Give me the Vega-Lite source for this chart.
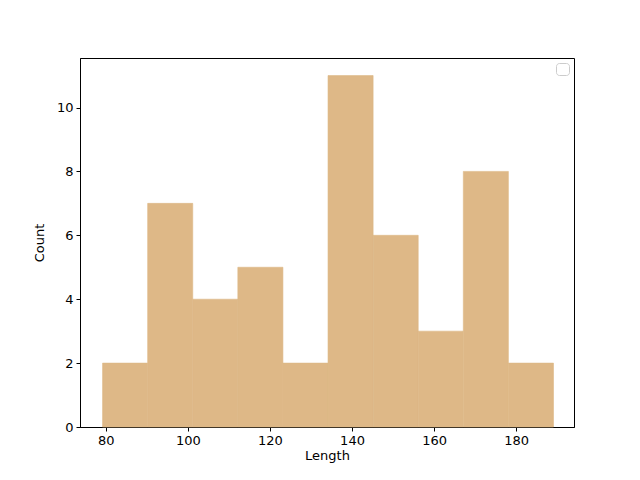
{
  "$schema": "https://vega.github.io/schema/vega-lite/v6.json",
  "width": 494,
  "height": 369,
  "padding": {"left": 80, "top": 58, "right": 66, "bottom": 53},
  "autosize": {"type": "none"},
  "background": "white",
  "config": {
    "font": "DejaVu Sans",
    "view": {"stroke": "black", "strokeWidth": 1},
    "axis": {
      "grid": false,
      "domainColor": "black",
      "tickColor": "black",
      "tickSize": 4,
      "labelFontSize": 13,
      "labelColor": "black",
      "titleFontSize": 13,
      "titleFontWeight": "normal",
      "titleColor": "black",
      "labelPadding": 3,
      "labelFont": "DejaVu Sans",
      "titleFont": "DejaVu Sans"
    }
  },
  "data": {
    "values": [
      {"bin_start": 79.2, "bin_end": 90.19, "count": 2, "series": "Length"},
      {"bin_start": 90.19, "bin_end": 101.18, "count": 7, "series": "Length"},
      {"bin_start": 101.18, "bin_end": 112.17, "count": 4, "series": "Length"},
      {"bin_start": 112.17, "bin_end": 123.16, "count": 5, "series": "Length"},
      {"bin_start": 123.16, "bin_end": 134.15, "count": 2, "series": "Length"},
      {"bin_start": 134.15, "bin_end": 145.14, "count": 11, "series": "Length"},
      {"bin_start": 145.14, "bin_end": 156.13, "count": 6, "series": "Length"},
      {"bin_start": 156.13, "bin_end": 167.12, "count": 3, "series": "Length"},
      {"bin_start": 167.12, "bin_end": 178.11, "count": 8, "series": "Length"},
      {"bin_start": 178.11, "bin_end": 189.1, "count": 2, "series": "Length"}
    ]
  },
  "mark": {"type": "rect", "stroke": "#deb887", "strokeWidth": 0.6},
  "encoding": {
    "x": {
      "field": "bin_start",
      "type": "quantitative",
      "scale": {"domain": [73.7, 194.1], "nice": false, "zero": false},
      "axis": {"title": "Length", "values": [80, 100, 120, 140, 160, 180], "titlePadding": 2}
    },
    "x2": {"field": "bin_end"},
    "y": {
      "field": "count",
      "type": "quantitative",
      "scale": {"domain": [0, 11.55], "nice": false},
      "axis": {"title": "Count", "values": [0, 2, 4, 6, 8, 10], "titlePadding": 10}
    },
    "y2": {"datum": 0},
    "color": {
      "field": "series",
      "type": "nominal",
      "scale": {"range": ["#deb887"]},
      "legend": {
        "title": null,
        "orient": "top-right",
        "offset": 5,
        "labelExpr": "''",
        "symbolOpacity": 0,
        "symbolSize": 1,
        "labelFontSize": 1,
        "labelOffset": 0,
        "padding": 5,
        "strokeColor": "#cccccc",
        "fillColor": "white",
        "cornerRadius": 3
      }
    }
  }
}
